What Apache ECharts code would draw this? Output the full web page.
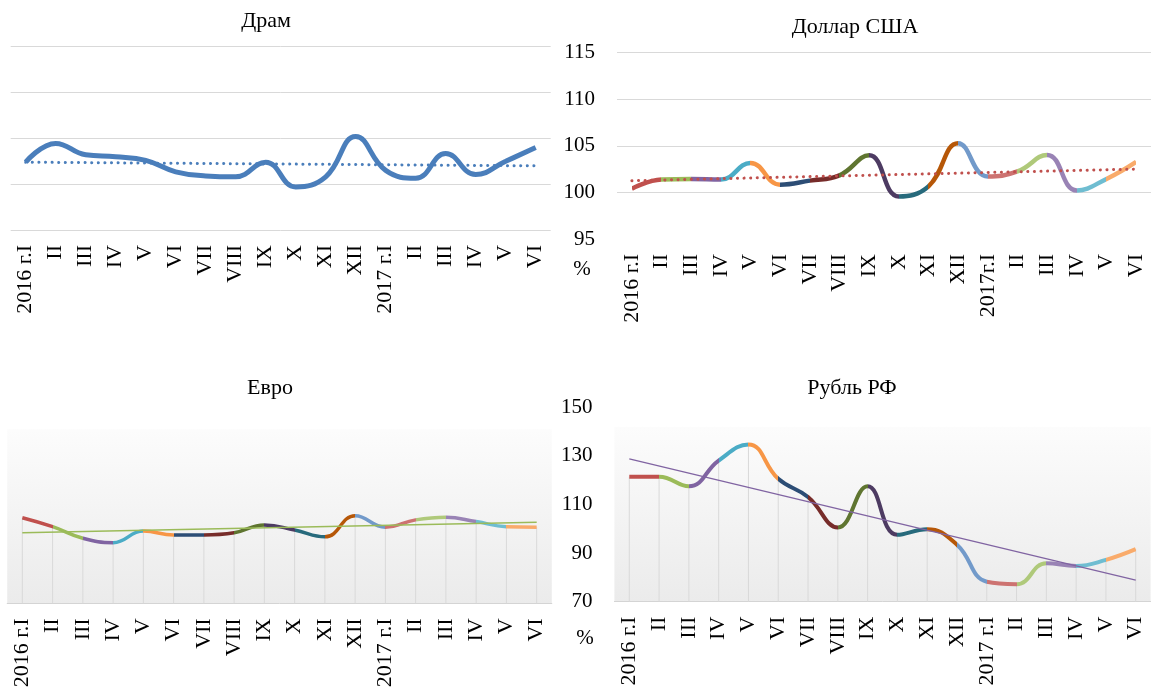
<!DOCTYPE html>
<html>
<head>
<meta charset="utf-8">
<script src="https://cdn.jsdelivr.net/npm/echarts@6/dist/echarts.min.js"></script>
<style>
html,body{margin:0;padding:0;background:#fff;}
#c{width:1153px;height:698px;}
</style>
</head>
<body>
<div id="c"></div>
<script>
// ---------- data ----------
const categories = ['2016 г.I','II','III','IV','V','VI','VII','VIII','IX','X','XI','XII','2017 г.I','II','III','IV','V','VI'];
const categoriesUsd = ['2016 г.I','II','III','IV','V','VI','VII','VIII','IX','X','XI','XII','2017г.I','II','III','IV','V','VI'];

const dramValues = [102.4, 104.45, 103.2, 103.0, 102.6, 101.35, 100.9, 100.8, 102.4, 99.7, 100.8, 105.2, 101.5, 100.65, 103.35, 101.05, 102.5, 104.0];
const dramTrend  = [102.4, 102.0];

const usdValues = [100.4, 101.37, 101.44, 101.37, 103.16, 100.83, 101.26, 101.83, 103.98, 99.57, 100.65, 105.28, 101.7, 102.24, 104.02, 100.2, 101.44, 103.27];
const usdTrend  = [101.25, 102.5];

const eurValues = [105.3, 101.6, 96.8, 95.0, 99.8, 98.2, 98.2, 99.1, 102.3, 100.2, 97.4, 106.1, 101.4, 104.4, 105.5, 103.7, 101.6, 101.4];
const eurTrend  = [99.1, 103.4];

const rubValues = [121.3, 121.3, 117.4, 128.0, 134.6, 120.5, 113.0, 100.5, 117.4, 97.5, 99.8, 93.4, 78.2, 77.2, 85.8, 84.7, 87.2, 91.6];
const rubTrend  = [128.7, 78.9];

const dramTicks = [95, 100, 105, 110, 115];
const usdTicks  = [95, 100, 105, 110, 115];
const eurTicks  = [70, 90, 110, 130, 150];
const rubTicks  = [70, 90, 110, 130, 150];

// Excel "vary colours by point" palette
const palette = ['#4F81BD','#C0504D','#9BBB59','#8064A2','#4BACC6','#F79646',
                 '#2C4D75','#772C2A','#5F7530','#4D3B62','#276A7C','#B65708',
                 '#729ACA','#CD7371','#AFC97A','#9983B5','#6FBDD1','#F9AB6B'];

// ---------- helpers ----------
const FONT = 'Liberation Serif';
const last = categories.length - 1;
function trendData(t){ return [[0, t[0]], [last, t[1]]]; }
function segPieces(){
  const p = [];
  for (let i = 0; i < last; i++) {
    const piece = {lte: i + 1, color: palette[i + 1]};
    if (i === 0) piece.gte = 0; else piece.gt = i;
    p.push(piece);
  }
  return p;
}
function xAx(gi, data, showLine){
  return {
    type:'category', gridIndex:gi, data:data, boundaryGap:true,
    axisTick:{show:false},
    axisLine:{show:showLine, lineStyle:{color:'#d4d4d4', width:1}},
    splitLine:{show:false},
    axisLabel:{interval:0, rotate:90, margin:15, fontFamily:FONT, fontSize:22, color:'#000'}
  };
}
function yAx(gi, ticks, showLabels, showSplit){
  return {
    type:'value', gridIndex:gi,
    min:ticks[0], max:ticks[ticks.length-1], interval:ticks[1]-ticks[0],
    startValue: ticks[0],
    axisLine:{show:false}, axisTick:{show:false},
    axisLabel:{show:showLabels, margin:22, fontFamily:FONT, fontSize:21, color:'#000'},
    splitLine:{show:showSplit, showMinLine: gi === 0, lineStyle:{color:'#d9d9d9', width:1}}
  };
}
const gradientFill = {
  type:'linear', x:0, y:0, x2:0, y2:1,
  colorStops:[
    {offset:0, color:'#ffffff'},
    {offset:0.1, color:'#ffffff'},
    {offset:0.105, color:'#fcfcfc'},
    {offset:1, color:'#ebebeb'}
  ]
};

const option = {
  animation:false,
  backgroundColor:'#ffffff',
  grid:[
    {left:10.7, top:46.7, width:540, height:183.3, containLabel:false},
    {left:617, top:52.5, width:534, height:186.5, containLabel:false},
    {left:7.2, top:409.3, width:544.6, height:194, containLabel:false, show:true, borderWidth:0, backgroundColor:gradientFill},
    {left:614.4, top:407, width:536.2, height:194.7, containLabel:false, show:true, borderWidth:0, backgroundColor:gradientFill}
  ],
  xAxis:[ xAx(0, categories, false), xAx(1, categoriesUsd, false), xAx(2, categories, true), xAx(3, categories, true) ],
  yAxis:[ yAx(0, dramTicks, false, true), yAx(1, usdTicks, true, true), yAx(2, eurTicks, false, false), yAx(3, rubTicks, true, false) ],
  visualMap:[
    {type:'piecewise', show:false, dimension:0, seriesIndex:2, pieces:segPieces()},
    {type:'piecewise', show:false, dimension:0, seriesIndex:5, pieces:segPieces()},
    {type:'piecewise', show:false, dimension:0, seriesIndex:8, pieces:segPieces()}
  ],
  series:[
    // 0,1 Драм
    {type:'line', xAxisIndex:0, yAxisIndex:0, data:dramValues, smooth:0.45, showSymbol:false, z:3,
     lineStyle:{color:'#4A7EBB', width:5}},
    {type:'line', xAxisIndex:0, yAxisIndex:0, data:trendData(dramTrend), showSymbol:false, z:4,
     lineStyle:{color:'#4A7EBB', width:3, type:[0.1, 6.5], cap:'round'}},
    // 2,3 Доллар
    {type:'line', xAxisIndex:1, yAxisIndex:1, data:usdValues, smooth:0.45, showSymbol:false, z:3,
     lineStyle:{width:4.5}},
    {type:'line', xAxisIndex:1, yAxisIndex:1, data:trendData(usdTrend), showSymbol:false, z:4,
     lineStyle:{color:'#C0504D', width:3, type:[0.1, 6.5], cap:'round'}},
    // 4,5,6 Евро
    {type:'bar', xAxisIndex:2, yAxisIndex:2, data:eurValues, barWidth:1, z:1, itemStyle:{color:'#d9d9d9'}},
    {type:'line', xAxisIndex:2, yAxisIndex:2, data:eurValues, smooth:0.45, showSymbol:false, z:3,
     lineStyle:{width:3.5}},
    {type:'line', xAxisIndex:2, yAxisIndex:2, data:trendData(eurTrend), showSymbol:false, z:4,
     lineStyle:{color:'#9BBB59', width:1.5}},
    // 7,8,9 Рубль
    {type:'bar', xAxisIndex:3, yAxisIndex:3, data:rubValues, barWidth:1, z:1, itemStyle:{color:'#d9d9d9'}},
    {type:'line', xAxisIndex:3, yAxisIndex:3, data:rubValues, smooth:0.45, showSymbol:false, z:3,
     lineStyle:{width:4}},
    {type:'line', xAxisIndex:3, yAxisIndex:3, data:trendData(rubTrend), showSymbol:false, z:4,
     lineStyle:{color:'#8064A2', width:1.3}}
  ],
  graphic:[
    {type:'text', x:266, y:21, style:{text:'Драм', font:'22px "Liberation Serif"', fill:'#000', textAlign:'center', textVerticalAlign:'middle'}},
    {type:'text', x:855, y:27, style:{text:'Доллар США', font:'22px "Liberation Serif"', fill:'#000', textAlign:'center', textVerticalAlign:'middle'}},
    {type:'text', x:270, y:388, style:{text:'Евро', font:'22px "Liberation Serif"', fill:'#000', textAlign:'center', textVerticalAlign:'middle'}},
    {type:'text', x:852, y:388, style:{text:'Рубль РФ', font:'22px "Liberation Serif"', fill:'#000', textAlign:'center', textVerticalAlign:'middle'}},
    {type:'text', x:582, y:269, style:{text:'%', font:'21px "Liberation Serif"', fill:'#000', textAlign:'center', textVerticalAlign:'middle'}},
    {type:'text', x:585, y:638, style:{text:'%', font:'21px "Liberation Serif"', fill:'#000', textAlign:'center', textVerticalAlign:'middle'}}
  ]
};

const chart = echarts.init(document.getElementById('c'), null, {renderer:'canvas'});
chart.setOption(option);
</script>
</body>
</html>
